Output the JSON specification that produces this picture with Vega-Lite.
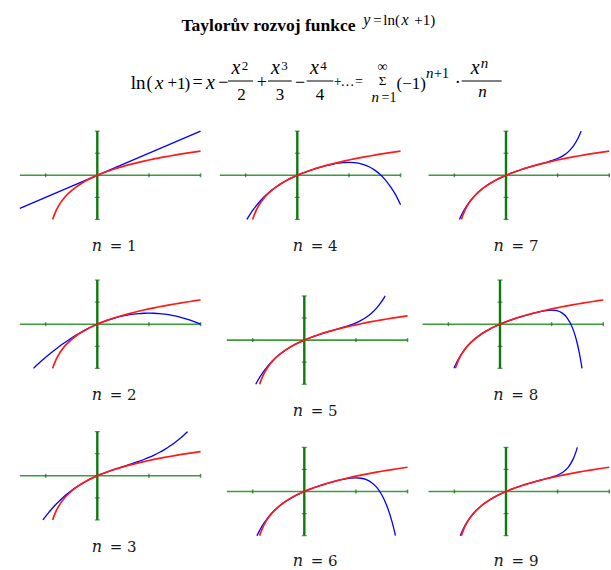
{
  "$schema": "https://vega.github.io/schema/vega-lite/v6.json",
  "background": "white",
  "padding": 0,
  "spacing": 0,
  "datasets": {
    "xt": [{"v": -1}, {"v": 1}, {"v": 2}],
    "yt": [{"v": -2}, {"v": -1}, {"v": 1}, {"v": 2}],
    "ln": [
      {"x": -0.8647, "y": -2}, {"x": -0.86, "y": -1.96611}, {"x": -0.85, "y": -1.89712}, {"x": -0.84, "y": -1.83258},
      {"x": -0.83, "y": -1.77196}, {"x": -0.82, "y": -1.7148}, {"x": -0.8, "y": -1.60944}, {"x": -0.78, "y": -1.51413},
      {"x": -0.75, "y": -1.38629}, {"x": -0.7, "y": -1.20397}, {"x": -0.65, "y": -1.04982}, {"x": -0.6, "y": -0.91629},
      {"x": -0.5, "y": -0.69315}, {"x": -0.4, "y": -0.51083}, {"x": -0.3, "y": -0.35667}, {"x": -0.2, "y": -0.22314},
      {"x": -0.1, "y": -0.10536}, {"x": 0, "y": 0}, {"x": 0.1, "y": 0.09531}, {"x": 0.2, "y": 0.18232},
      {"x": 0.3, "y": 0.26236}, {"x": 0.4, "y": 0.33647}, {"x": 0.5, "y": 0.40547}, {"x": 0.6, "y": 0.47},
      {"x": 0.7, "y": 0.53063}, {"x": 0.8, "y": 0.58779}, {"x": 0.9, "y": 0.64185}, {"x": 1.0, "y": 0.69315},
      {"x": 1.1, "y": 0.74194}, {"x": 1.2, "y": 0.78846}, {"x": 1.3, "y": 0.83291}, {"x": 1.4, "y": 0.87547},
      {"x": 1.5, "y": 0.91629}, {"x": 1.6, "y": 0.95551}, {"x": 1.7, "y": 0.99325}, {"x": 1.8, "y": 1.02962},
      {"x": 1.9, "y": 1.06471}, {"x": 2.0, "y": 1.09861}
    ],
    "taylor": [
      {"n": 1, "x": -1.5, "y": -1.5}, {"n": 1, "x": 2, "y": 2},

      {"n": 2, "x": -1.236, "y": -2}, {"n": 2, "x": -1.2, "y": -1.92}, {"n": 2, "x": -1.1, "y": -1.705}, {"n": 2, "x": -1.0, "y": -1.5},
      {"n": 2, "x": -0.9, "y": -1.305}, {"n": 2, "x": -0.8, "y": -1.12}, {"n": 2, "x": -0.7, "y": -0.945}, {"n": 2, "x": -0.6, "y": -0.78},
      {"n": 2, "x": -0.5, "y": -0.625}, {"n": 2, "x": -0.4, "y": -0.48}, {"n": 2, "x": -0.3, "y": -0.345}, {"n": 2, "x": -0.2, "y": -0.22},
      {"n": 2, "x": -0.1, "y": -0.105}, {"n": 2, "x": 0, "y": 0}, {"n": 2, "x": 0.1, "y": 0.095}, {"n": 2, "x": 0.2, "y": 0.18},
      {"n": 2, "x": 0.3, "y": 0.255}, {"n": 2, "x": 0.4, "y": 0.32}, {"n": 2, "x": 0.5, "y": 0.375}, {"n": 2, "x": 0.6, "y": 0.42},
      {"n": 2, "x": 0.7, "y": 0.455}, {"n": 2, "x": 0.8, "y": 0.48}, {"n": 2, "x": 0.9, "y": 0.495}, {"n": 2, "x": 1.0, "y": 0.5},
      {"n": 2, "x": 1.1, "y": 0.495}, {"n": 2, "x": 1.2, "y": 0.48}, {"n": 2, "x": 1.3, "y": 0.455}, {"n": 2, "x": 1.4, "y": 0.42},
      {"n": 2, "x": 1.5, "y": 0.375}, {"n": 2, "x": 1.6, "y": 0.32}, {"n": 2, "x": 1.7, "y": 0.255}, {"n": 2, "x": 1.8, "y": 0.18},
      {"n": 2, "x": 1.9, "y": 0.095}, {"n": 2, "x": 2.0, "y": 0},

      {"n": 3, "x": -1.054, "y": -2}, {"n": 3, "x": -1.0, "y": -1.8333}, {"n": 3, "x": -0.95, "y": -1.687}, {"n": 3, "x": -0.9, "y": -1.548},
      {"n": 3, "x": -0.8, "y": -1.2907}, {"n": 3, "x": -0.7, "y": -1.0593}, {"n": 3, "x": -0.6, "y": -0.852}, {"n": 3, "x": -0.5, "y": -0.6667},
      {"n": 3, "x": -0.4, "y": -0.5013}, {"n": 3, "x": -0.3, "y": -0.354}, {"n": 3, "x": -0.2, "y": -0.2227}, {"n": 3, "x": -0.1, "y": -0.1053},
      {"n": 3, "x": 0, "y": 0}, {"n": 3, "x": 0.1, "y": 0.0953}, {"n": 3, "x": 0.2, "y": 0.1827}, {"n": 3, "x": 0.3, "y": 0.264},
      {"n": 3, "x": 0.4, "y": 0.3413}, {"n": 3, "x": 0.5, "y": 0.4167}, {"n": 3, "x": 0.6, "y": 0.492}, {"n": 3, "x": 0.7, "y": 0.5693},
      {"n": 3, "x": 0.8, "y": 0.6507}, {"n": 3, "x": 0.9, "y": 0.738}, {"n": 3, "x": 1.0, "y": 0.8333}, {"n": 3, "x": 1.1, "y": 0.9387},
      {"n": 3, "x": 1.2, "y": 1.056}, {"n": 3, "x": 1.3, "y": 1.1873}, {"n": 3, "x": 1.4, "y": 1.3347}, {"n": 3, "x": 1.5, "y": 1.5},
      {"n": 3, "x": 1.6, "y": 1.6853}, {"n": 3, "x": 1.7, "y": 1.8927}, {"n": 3, "x": 1.7477, "y": 2},

      {"n": 4, "x": -0.9788, "y": -2}, {"n": 4, "x": -0.95, "y": -1.8907}, {"n": 4, "x": -0.9, "y": -1.712}, {"n": 4, "x": -0.85, "y": -1.5465},
      {"n": 4, "x": -0.8, "y": -1.3931}, {"n": 4, "x": -0.7, "y": -1.1194}, {"n": 4, "x": -0.6, "y": -0.8844}, {"n": 4, "x": -0.5, "y": -0.6823},
      {"n": 4, "x": -0.4, "y": -0.5077}, {"n": 4, "x": -0.3, "y": -0.356}, {"n": 4, "x": -0.2, "y": -0.2231}, {"n": 4, "x": -0.1, "y": -0.1054},
      {"n": 4, "x": 0, "y": 0}, {"n": 4, "x": 0.1, "y": 0.0953}, {"n": 4, "x": 0.2, "y": 0.1823}, {"n": 4, "x": 0.3, "y": 0.262},
      {"n": 4, "x": 0.4, "y": 0.3349}, {"n": 4, "x": 0.5, "y": 0.401}, {"n": 4, "x": 0.6, "y": 0.4596}, {"n": 4, "x": 0.7, "y": 0.5093},
      {"n": 4, "x": 0.8, "y": 0.5483}, {"n": 4, "x": 0.9, "y": 0.574}, {"n": 4, "x": 1.0, "y": 0.5833}, {"n": 4, "x": 1.1, "y": 0.5726},
      {"n": 4, "x": 1.2, "y": 0.5376}, {"n": 4, "x": 1.3, "y": 0.4733}, {"n": 4, "x": 1.4, "y": 0.3743}, {"n": 4, "x": 1.5, "y": 0.2344},
      {"n": 4, "x": 1.6, "y": 0.0469}, {"n": 4, "x": 1.7, "y": -0.1954}, {"n": 4, "x": 1.8, "y": -0.5004}, {"n": 4, "x": 1.9, "y": -0.8617},
      {"n": 4, "x": 2.0, "y": -1.3333},

      {"n": 5, "x": -0.9399, "y": -2}, {"n": 5, "x": -0.9, "y": -1.8301}, {"n": 5, "x": -0.85, "y": -1.6352}, {"n": 5, "x": -0.8, "y": -1.4586},
      {"n": 5, "x": -0.7, "y": -1.153}, {"n": 5, "x": -0.6, "y": -0.9}, {"n": 5, "x": -0.5, "y": -0.6885}, {"n": 5, "x": -0.4, "y": -0.5098},
      {"n": 5, "x": -0.3, "y": -0.3565}, {"n": 5, "x": -0.2, "y": -0.2231}, {"n": 5, "x": -0.1, "y": -0.1054}, {"n": 5, "x": 0, "y": 0},
      {"n": 5, "x": 0.1, "y": 0.0953}, {"n": 5, "x": 0.2, "y": 0.1823}, {"n": 5, "x": 0.3, "y": 0.2625}, {"n": 5, "x": 0.4, "y": 0.337},
      {"n": 5, "x": 0.5, "y": 0.4073}, {"n": 5, "x": 0.6, "y": 0.4752}, {"n": 5, "x": 0.7, "y": 0.5429}, {"n": 5, "x": 0.8, "y": 0.6138},
      {"n": 5, "x": 0.9, "y": 0.6921}, {"n": 5, "x": 1.0, "y": 0.7833}, {"n": 5, "x": 1.1, "y": 0.8947}, {"n": 5, "x": 1.2, "y": 1.0353},
      {"n": 5, "x": 1.3, "y": 1.2159}, {"n": 5, "x": 1.4, "y": 1.4499}, {"n": 5, "x": 1.5, "y": 1.7531}, {"n": 5, "x": 1.55, "y": 1.9364},
      {"n": 5, "x": 1.566, "y": 2},

      {"n": 6, "x": -0.917, "y": -2}, {"n": 6, "x": -0.9, "y": -1.9187}, {"n": 6, "x": -0.88, "y": -1.8272}, {"n": 6, "x": -0.85, "y": -1.6981},
      {"n": 6, "x": -0.8, "y": -1.5023}, {"n": 6, "x": -0.7, "y": -1.1726}, {"n": 6, "x": -0.6, "y": -0.9077}, {"n": 6, "x": -0.5, "y": -0.6911},
      {"n": 6, "x": -0.4, "y": -0.5105}, {"n": 6, "x": -0.3, "y": -0.3566}, {"n": 6, "x": -0.2, "y": -0.2231}, {"n": 6, "x": -0.1, "y": -0.1054},
      {"n": 6, "x": 0, "y": 0}, {"n": 6, "x": 0.1, "y": 0.0953}, {"n": 6, "x": 0.2, "y": 0.1823}, {"n": 6, "x": 0.3, "y": 0.2623},
      {"n": 6, "x": 0.4, "y": 0.3363}, {"n": 6, "x": 0.5, "y": 0.4047}, {"n": 6, "x": 0.6, "y": 0.4674}, {"n": 6, "x": 0.7, "y": 0.5233},
      {"n": 6, "x": 0.8, "y": 0.5701}, {"n": 6, "x": 0.9, "y": 0.6035}, {"n": 6, "x": 1.0, "y": 0.6167}, {"n": 6, "x": 1.1, "y": 0.5995},
      {"n": 6, "x": 1.2, "y": 0.5376}, {"n": 6, "x": 1.3, "y": 0.4114}, {"n": 6, "x": 1.4, "y": 0.195}, {"n": 6, "x": 1.5, "y": -0.1453},
      {"n": 6, "x": 1.6, "y": -0.6521}, {"n": 6, "x": 1.7, "y": -1.3786}, {"n": 6, "x": 1.75, "y": -1.8441}, {"n": 6, "x": 1.765, "y": -2},

      {"n": 7, "x": -0.9025, "y": -2}, {"n": 7, "x": -0.9, "y": -1.987}, {"n": 7, "x": -0.88, "y": -1.8856}, {"n": 7, "x": -0.85, "y": -1.7439},
      {"n": 7, "x": -0.8, "y": -1.5323}, {"n": 7, "x": -0.7, "y": -1.1843}, {"n": 7, "x": -0.6, "y": -0.9117}, {"n": 7, "x": -0.5, "y": -0.6923},
      {"n": 7, "x": -0.4, "y": -0.5107}, {"n": 7, "x": -0.3, "y": -0.3567}, {"n": 7, "x": -0.2, "y": -0.2231}, {"n": 7, "x": -0.1, "y": -0.1054},
      {"n": 7, "x": 0, "y": 0}, {"n": 7, "x": 0.1, "y": 0.0953}, {"n": 7, "x": 0.2, "y": 0.1823}, {"n": 7, "x": 0.3, "y": 0.2624},
      {"n": 7, "x": 0.4, "y": 0.3365}, {"n": 7, "x": 0.5, "y": 0.4058}, {"n": 7, "x": 0.6, "y": 0.4714}, {"n": 7, "x": 0.7, "y": 0.5351},
      {"n": 7, "x": 0.8, "y": 0.6001}, {"n": 7, "x": 0.9, "y": 0.6718}, {"n": 7, "x": 1.0, "y": 0.7595}, {"n": 7, "x": 1.1, "y": 0.8779},
      {"n": 7, "x": 1.2, "y": 1.0495}, {"n": 7, "x": 1.3, "y": 1.3078}, {"n": 7, "x": 1.4, "y": 1.7009}, {"n": 7, "x": 1.45, "y": 1.968},
      {"n": 7, "x": 1.4553, "y": 2},

      {"n": 8, "x": -0.8927, "y": -2}, {"n": 8, "x": -0.88, "y": -1.9306}, {"n": 8, "x": -0.85, "y": -1.7779}, {"n": 8, "x": -0.8, "y": -1.5532},
      {"n": 8, "x": -0.7, "y": -1.1916}, {"n": 8, "x": -0.6, "y": -0.9138}, {"n": 8, "x": -0.5, "y": -0.6928}, {"n": 8, "x": -0.4, "y": -0.5108},
      {"n": 8, "x": -0.3, "y": -0.3567}, {"n": 8, "x": -0.2, "y": -0.2231}, {"n": 8, "x": -0.1, "y": -0.1054}, {"n": 8, "x": 0, "y": 0},
      {"n": 8, "x": 0.1, "y": 0.0953}, {"n": 8, "x": 0.2, "y": 0.1823}, {"n": 8, "x": 0.3, "y": 0.2624}, {"n": 8, "x": 0.4, "y": 0.3365},
      {"n": 8, "x": 0.5, "y": 0.4053}, {"n": 8, "x": 0.6, "y": 0.4693}, {"n": 8, "x": 0.7, "y": 0.5279}, {"n": 8, "x": 0.8, "y": 0.5791},
      {"n": 8, "x": 0.9, "y": 0.618}, {"n": 8, "x": 1.0, "y": 0.6345}, {"n": 8, "x": 1.1, "y": 0.6099}, {"n": 8, "x": 1.2, "y": 0.512},
      {"n": 8, "x": 1.3, "y": 0.2882}, {"n": 8, "x": 1.4, "y": -0.1438}, {"n": 8, "x": 1.45, "y": -0.4746}, {"n": 8, "x": 1.5, "y": -0.9081},
      {"n": 8, "x": 1.55, "y": -1.4687}, {"n": 8, "x": 1.58, "y": -1.8782}, {"n": 8, "x": 1.5881, "y": -2},

      {"n": 9, "x": -0.8859, "y": -2}, {"n": 9, "x": -0.88, "y": -1.9657}, {"n": 9, "x": -0.85, "y": -1.8037}, {"n": 9, "x": -0.8, "y": -1.5681},
      {"n": 9, "x": -0.7, "y": -1.196}, {"n": 9, "x": -0.6, "y": -0.9149}, {"n": 9, "x": -0.5, "y": -0.693}, {"n": 9, "x": -0.4, "y": -0.5108},
      {"n": 9, "x": -0.3, "y": -0.3567}, {"n": 9, "x": -0.2, "y": -0.2231}, {"n": 9, "x": -0.1, "y": -0.1054}, {"n": 9, "x": 0, "y": 0},
      {"n": 9, "x": 0.1, "y": 0.0953}, {"n": 9, "x": 0.2, "y": 0.1823}, {"n": 9, "x": 0.3, "y": 0.2624}, {"n": 9, "x": 0.4, "y": 0.3365},
      {"n": 9, "x": 0.5, "y": 0.4055}, {"n": 9, "x": 0.6, "y": 0.4704}, {"n": 9, "x": 0.7, "y": 0.5324}, {"n": 9, "x": 0.8, "y": 0.594},
      {"n": 9, "x": 0.9, "y": 0.6611}, {"n": 9, "x": 1.0, "y": 0.7456}, {"n": 9, "x": 1.1, "y": 0.8719}, {"n": 9, "x": 1.2, "y": 1.0853},
      {"n": 9, "x": 1.3, "y": 1.4664}, {"n": 9, "x": 1.35, "y": 1.7597}, {"n": 9, "x": 1.3823, "y": 2}
    ]
  },
  "vconcat": [
    {
      "width": 611,
      "height": 112,
      "data": {"values": [{}]},
      "layer": [
        {"mark": {"type": "text", "text": "Taylorův rozvoj funkce", "fontWeight": "bold", "fontSize": 17.5},
         "encoding": {"x": {"datum": 181.5, "type": "quantitative", "scale": {"domain": [0, 611], "nice": false, "zero": false}},
                      "y": {"datum": 30.5, "type": "quantitative", "scale": {"domain": [0, 112], "reverse": true, "nice": false, "zero": false}}}},
        {"mark": {"type": "text", "text": "y", "fontStyle": "italic", "fontSize": 16}, "encoding": {"x": {"datum": 363.3}, "y": {"datum": 25}}},
        {"mark": {"type": "text", "text": "=", "fontSize": 15}, "encoding": {"x": {"datum": 373.3}, "y": {"datum": 25}}},
        {"mark": {"type": "text", "text": "ln(", "fontSize": 15}, "encoding": {"x": {"datum": 383.3}, "y": {"datum": 25}}},
        {"mark": {"type": "text", "text": "x", "fontStyle": "italic", "fontSize": 16}, "encoding": {"x": {"datum": 401.5}, "y": {"datum": 25}}},
        {"mark": {"type": "text", "text": "+1)", "fontSize": 15}, "encoding": {"x": {"datum": 414.3}, "y": {"datum": 25}}},

        {"mark": {"type": "text", "text": "ln", "fontSize": 19}, "encoding": {"x": {"datum": 130.7}, "y": {"datum": 88.5}}},
        {"mark": {"type": "text", "text": "(", "fontSize": 18}, "encoding": {"x": {"datum": 146.5}, "y": {"datum": 88.5}}},
        {"mark": {"type": "text", "text": "x", "fontStyle": "italic", "fontSize": 19}, "encoding": {"x": {"datum": 155}, "y": {"datum": 88.5}}},
        {"mark": {"type": "text", "text": "+", "fontSize": 17}, "encoding": {"x": {"datum": 167.5}, "y": {"datum": 87.5}}},
        {"mark": {"type": "text", "text": "1", "fontSize": 17}, "encoding": {"x": {"datum": 177}, "y": {"datum": 88.5}}},
        {"mark": {"type": "text", "text": ")", "fontSize": 17}, "encoding": {"x": {"datum": 184.6}, "y": {"datum": 88.5}}},
        {"mark": {"type": "text", "text": "=", "fontSize": 18}, "encoding": {"x": {"datum": 192.5}, "y": {"datum": 87.5}}},
        {"mark": {"type": "text", "text": "x", "fontStyle": "italic", "fontSize": 20}, "encoding": {"x": {"datum": 206}, "y": {"datum": 88.5}}},
        {"mark": {"type": "text", "text": "−", "fontSize": 18}, "encoding": {"x": {"datum": 218.3}, "y": {"datum": 87.5}}},

        {"mark": {"type": "text", "text": "x", "fontStyle": "italic", "fontSize": 20}, "encoding": {"x": {"datum": 231.5}, "y": {"datum": 74}}},
        {"mark": {"type": "text", "text": "2", "fontSize": 13}, "encoding": {"x": {"datum": 241.8}, "y": {"datum": 70}}},
        {"mark": {"type": "rule", "color": "#000", "strokeWidth": 1}, "encoding": {"x": {"datum": 228}, "x2": {"datum": 253}, "y": {"datum": 81}}},
        {"mark": {"type": "text", "text": "2", "fontSize": 17, "align": "center"}, "encoding": {"x": {"datum": 241.5}, "y": {"datum": 100}}},
        {"mark": {"type": "text", "text": "+", "fontSize": 18}, "encoding": {"x": {"datum": 256.7}, "y": {"datum": 87.5}}},

        {"mark": {"type": "text", "text": "x", "fontStyle": "italic", "fontSize": 20}, "encoding": {"x": {"datum": 271}, "y": {"datum": 74}}},
        {"mark": {"type": "text", "text": "3", "fontSize": 13}, "encoding": {"x": {"datum": 281.3}, "y": {"datum": 70}}},
        {"mark": {"type": "rule", "color": "#000", "strokeWidth": 1}, "encoding": {"x": {"datum": 268}, "x2": {"datum": 291.7}, "y": {"datum": 81}}},
        {"mark": {"type": "text", "text": "3", "fontSize": 17, "align": "center"}, "encoding": {"x": {"datum": 280}, "y": {"datum": 100}}},
        {"mark": {"type": "text", "text": "−", "fontSize": 18}, "encoding": {"x": {"datum": 295}, "y": {"datum": 87.5}}},

        {"mark": {"type": "text", "text": "x", "fontStyle": "italic", "fontSize": 20}, "encoding": {"x": {"datum": 310}, "y": {"datum": 74}}},
        {"mark": {"type": "text", "text": "4", "fontSize": 13}, "encoding": {"x": {"datum": 320.3}, "y": {"datum": 70}}},
        {"mark": {"type": "rule", "color": "#000", "strokeWidth": 1}, "encoding": {"x": {"datum": 306.7}, "x2": {"datum": 333.3}, "y": {"datum": 81}}},
        {"mark": {"type": "text", "text": "4", "fontSize": 17, "align": "center"}, "encoding": {"x": {"datum": 320}, "y": {"datum": 100}}},

        {"mark": {"type": "text", "text": "+", "fontSize": 14}, "encoding": {"x": {"datum": 333.8}, "y": {"datum": 86}}},
        {"mark": {"type": "text", "text": "…", "fontSize": 14}, "encoding": {"x": {"datum": 340.5}, "y": {"datum": 86}}},
        {"mark": {"type": "text", "text": "=", "fontSize": 14}, "encoding": {"x": {"datum": 355}, "y": {"datum": 86}}},

        {"mark": {"type": "text", "text": "∞", "fontSize": 14, "align": "center"}, "encoding": {"x": {"datum": 382.5}, "y": {"datum": 70.5}}},
        {"mark": {"type": "text", "text": "Σ", "fontSize": 13, "align": "center"}, "encoding": {"x": {"datum": 382.5}, "y": {"datum": 84.5}}},
        {"mark": {"type": "text", "text": "n", "fontStyle": "italic", "fontSize": 15}, "encoding": {"x": {"datum": 371.5}, "y": {"datum": 101.5}}},
        {"mark": {"type": "text", "text": "=1", "fontSize": 14}, "encoding": {"x": {"datum": 381.5}, "y": {"datum": 101.5}}},

        {"mark": {"type": "text", "text": "(−1)", "fontSize": 17}, "encoding": {"x": {"datum": 396.5}, "y": {"datum": 88.5}}},
        {"mark": {"type": "text", "text": "n", "fontStyle": "italic", "fontSize": 15}, "encoding": {"x": {"datum": 426}, "y": {"datum": 78}}},
        {"mark": {"type": "text", "text": "+1", "fontSize": 14}, "encoding": {"x": {"datum": 434}, "y": {"datum": 78}}},
        {"mark": {"type": "text", "text": ".", "fontSize": 18}, "encoding": {"x": {"datum": 455.5}, "y": {"datum": 83}}},

        {"mark": {"type": "text", "text": "x", "fontStyle": "italic", "fontSize": 20}, "encoding": {"x": {"datum": 470.7}, "y": {"datum": 74}}},
        {"mark": {"type": "text", "text": "n", "fontStyle": "italic", "fontSize": 15}, "encoding": {"x": {"datum": 480.8}, "y": {"datum": 68.3}}},
        {"mark": {"type": "rule", "color": "#000", "strokeWidth": 1}, "encoding": {"x": {"datum": 461.7}, "x2": {"datum": 501.7}, "y": {"datum": 81}}},
        {"mark": {"type": "text", "text": "n", "fontStyle": "italic", "fontSize": 17, "align": "center"}, "encoding": {"x": {"datum": 482.5}, "y": {"datum": 96.5}}}
      ]
    },
    {
      "columns": 3,
      "spacing": 0,
      "bounds": "flush",
      "concat": [
        {"width": 205, "height": 150, "data": {"values": [{}]}, "layer": [
          {"mark": {"type": "rule", "color": "#3c9c3c", "strokeWidth": 1.6}, "encoding": {"x": {"datum": -1.5, "type": "quantitative", "scale": {"domain": [-1.8846, 2.086], "nice": false, "zero": false}}, "x2": {"datum": 2}, "y": {"datum": 0, "type": "quantitative", "scale": {"domain": [-3.9266, 2.8668], "nice": false, "zero": false}}}},
          {"mark": {"type": "rule", "color": "#0d7a0d", "strokeWidth": 2.4}, "encoding": {"x": {"datum": 0}, "y": {"datum": -2}, "y2": {"datum": 2}}},
          {"data": {"name": "xt"}, "mark": {"type": "tick", "orient": "vertical", "size": 4, "thickness": 1.5, "color": "#0d6d0d"}, "encoding": {"x": {"field": "v", "type": "quantitative"}, "y": {"datum": 0}}},
          {"data": {"name": "yt"}, "mark": {"type": "tick", "orient": "horizontal", "size": 5, "thickness": 1.2, "color": "#0d6d0d"}, "encoding": {"y": {"field": "v", "type": "quantitative"}, "x": {"datum": 0}}},
          {"data": {"name": "taylor"}, "transform": [{"filter": "datum.n == 1"}], "mark": {"type": "line", "color": "#0000ff", "strokeWidth": 1.3, "interpolate": "monotone"}, "encoding": {"x": {"field": "x", "type": "quantitative"}, "y": {"field": "y", "type": "quantitative"}}},
          {"data": {"name": "ln"}, "mark": {"type": "line", "color": "#ff1a1a", "strokeWidth": 1.7, "interpolate": "monotone"}, "encoding": {"x": {"field": "x", "type": "quantitative"}, "y": {"field": "y", "type": "quantitative"}}},
          {"mark": {"type": "text", "text": "n", "font": "DejaVu Serif", "fontStyle": "italic", "fontSize": 16, "align": "left", "color": "#1a1a1a"}, "encoding": {"x": {"datum": -0.108}, "y": {"datum": -3.45}}},
          {"mark": {"type": "text", "text": "= 1", "font": "DejaVu Serif", "fontSize": 15, "align": "left", "dx": 18, "color": "#1a1a1a"}, "encoding": {"x": {"datum": -0.108}, "y": {"datum": -3.45}}}
        ]},
        {"width": 205, "height": 150, "data": {"values": [{}]}, "layer": [
          {"mark": {"type": "rule", "color": "#3c9c3c", "strokeWidth": 1.6}, "encoding": {"x": {"datum": -1.5, "type": "quantitative", "scale": {"domain": [-1.7877, 2.1828], "nice": false, "zero": false}}, "x2": {"datum": 2}, "y": {"datum": 0, "type": "quantitative", "scale": {"domain": [-3.9266, 2.8668], "nice": false, "zero": false}}}},
          {"mark": {"type": "rule", "color": "#0d7a0d", "strokeWidth": 2.4}, "encoding": {"x": {"datum": 0}, "y": {"datum": -2}, "y2": {"datum": 2}}},
          {"data": {"name": "xt"}, "mark": {"type": "tick", "orient": "vertical", "size": 4, "thickness": 1.5, "color": "#0d6d0d"}, "encoding": {"x": {"field": "v", "type": "quantitative"}, "y": {"datum": 0}}},
          {"data": {"name": "yt"}, "mark": {"type": "tick", "orient": "horizontal", "size": 5, "thickness": 1.2, "color": "#0d6d0d"}, "encoding": {"y": {"field": "v", "type": "quantitative"}, "x": {"datum": 0}}},
          {"data": {"name": "taylor"}, "transform": [{"filter": "datum.n == 4"}], "mark": {"type": "line", "color": "#0000ff", "strokeWidth": 1.3, "interpolate": "monotone"}, "encoding": {"x": {"field": "x", "type": "quantitative"}, "y": {"field": "y", "type": "quantitative"}}},
          {"data": {"name": "ln"}, "mark": {"type": "line", "color": "#ff1a1a", "strokeWidth": 1.7, "interpolate": "monotone"}, "encoding": {"x": {"field": "x", "type": "quantitative"}, "y": {"field": "y", "type": "quantitative"}}},
          {"mark": {"type": "text", "text": "n", "font": "DejaVu Serif", "fontStyle": "italic", "fontSize": 16, "align": "left", "color": "#1a1a1a"}, "encoding": {"x": {"datum": -0.089}, "y": {"datum": -3.45}}},
          {"mark": {"type": "text", "text": "= 4", "font": "DejaVu Serif", "fontSize": 15, "align": "left", "dx": 18, "color": "#1a1a1a"}, "encoding": {"x": {"datum": -0.089}, "y": {"datum": -3.45}}}
        ]},
        {"width": 201, "height": 150, "data": {"values": [{}]}, "layer": [
          {"mark": {"type": "rule", "color": "#3c9c3c", "strokeWidth": 1.6}, "encoding": {"x": {"datum": -1.5, "type": "quantitative", "scale": {"domain": [-1.8594, 2.0337], "nice": false, "zero": false}}, "x2": {"datum": 2}, "y": {"datum": 0, "type": "quantitative", "scale": {"domain": [-3.9266, 2.8668], "nice": false, "zero": false}}}},
          {"mark": {"type": "rule", "color": "#0d7a0d", "strokeWidth": 2.4}, "encoding": {"x": {"datum": 0}, "y": {"datum": -2}, "y2": {"datum": 2}}},
          {"data": {"name": "xt"}, "mark": {"type": "tick", "orient": "vertical", "size": 4, "thickness": 1.5, "color": "#0d6d0d"}, "encoding": {"x": {"field": "v", "type": "quantitative"}, "y": {"datum": 0}}},
          {"data": {"name": "yt"}, "mark": {"type": "tick", "orient": "horizontal", "size": 5, "thickness": 1.2, "color": "#0d6d0d"}, "encoding": {"y": {"field": "v", "type": "quantitative"}, "x": {"datum": 0}}},
          {"data": {"name": "taylor"}, "transform": [{"filter": "datum.n == 7"}], "mark": {"type": "line", "color": "#0000ff", "strokeWidth": 1.3, "interpolate": "monotone"}, "encoding": {"x": {"field": "x", "type": "quantitative"}, "y": {"field": "y", "type": "quantitative"}}},
          {"data": {"name": "ln"}, "mark": {"type": "line", "color": "#ff1a1a", "strokeWidth": 1.7, "interpolate": "monotone"}, "encoding": {"x": {"field": "x", "type": "quantitative"}, "y": {"field": "y", "type": "quantitative"}}},
          {"mark": {"type": "text", "text": "n", "font": "DejaVu Serif", "fontStyle": "italic", "fontSize": 16, "align": "left", "color": "#1a1a1a"}, "encoding": {"x": {"datum": -0.24}, "y": {"datum": -3.45}}},
          {"mark": {"type": "text", "text": "= 7", "font": "DejaVu Serif", "fontSize": 15, "align": "left", "dx": 18, "color": "#1a1a1a"}, "encoding": {"x": {"datum": -0.24}, "y": {"datum": -3.45}}}
        ]},
        {"width": 205, "height": 152, "data": {"values": [{}]}, "layer": [
          {"mark": {"type": "rule", "color": "#3c9c3c", "strokeWidth": 1.6}, "encoding": {"x": {"datum": -1.5, "type": "quantitative", "scale": {"domain": [-1.8846, 2.086], "nice": false, "zero": false}}, "x2": {"datum": 2}, "y": {"datum": 0, "type": "quantitative", "scale": {"domain": [-4.067, 2.817], "nice": false, "zero": false}}}},
          {"mark": {"type": "rule", "color": "#0d7a0d", "strokeWidth": 2.4}, "encoding": {"x": {"datum": 0}, "y": {"datum": -2}, "y2": {"datum": 2}}},
          {"data": {"name": "xt"}, "mark": {"type": "tick", "orient": "vertical", "size": 4, "thickness": 1.5, "color": "#0d6d0d"}, "encoding": {"x": {"field": "v", "type": "quantitative"}, "y": {"datum": 0}}},
          {"data": {"name": "yt"}, "mark": {"type": "tick", "orient": "horizontal", "size": 5, "thickness": 1.2, "color": "#0d6d0d"}, "encoding": {"y": {"field": "v", "type": "quantitative"}, "x": {"datum": 0}}},
          {"data": {"name": "taylor"}, "transform": [{"filter": "datum.n == 2"}], "mark": {"type": "line", "color": "#0000ff", "strokeWidth": 1.3, "interpolate": "monotone"}, "encoding": {"x": {"field": "x", "type": "quantitative"}, "y": {"field": "y", "type": "quantitative"}}},
          {"data": {"name": "ln"}, "mark": {"type": "line", "color": "#ff1a1a", "strokeWidth": 1.7, "interpolate": "monotone"}, "encoding": {"x": {"field": "x", "type": "quantitative"}, "y": {"field": "y", "type": "quantitative"}}},
          {"mark": {"type": "text", "text": "n", "font": "DejaVu Serif", "fontStyle": "italic", "fontSize": 16, "align": "left", "color": "#1a1a1a"}, "encoding": {"x": {"datum": -0.108}, "y": {"datum": -3.45}}},
          {"mark": {"type": "text", "text": "= 2", "font": "DejaVu Serif", "fontSize": 15, "align": "left", "dx": 18, "color": "#1a1a1a"}, "encoding": {"x": {"datum": -0.108}, "y": {"datum": -3.45}}}
        ]},
        {"width": 205, "height": 152, "data": {"values": [{}]}, "layer": [
          {"mark": {"type": "rule", "color": "#3c9c3c", "strokeWidth": 1.6}, "encoding": {"x": {"datum": -1.5, "type": "quantitative", "scale": {"domain": [-1.9233, 2.0473], "nice": false, "zero": false}}, "x2": {"datum": 2}, "y": {"datum": 0, "type": "quantitative", "scale": {"domain": [-3.3469, 3.5371], "nice": false, "zero": false}}}},
          {"mark": {"type": "rule", "color": "#0d7a0d", "strokeWidth": 2.4}, "encoding": {"x": {"datum": 0}, "y": {"datum": -2}, "y2": {"datum": 2}}},
          {"data": {"name": "xt"}, "mark": {"type": "tick", "orient": "vertical", "size": 4, "thickness": 1.5, "color": "#0d6d0d"}, "encoding": {"x": {"field": "v", "type": "quantitative"}, "y": {"datum": 0}}},
          {"data": {"name": "yt"}, "mark": {"type": "tick", "orient": "horizontal", "size": 5, "thickness": 1.2, "color": "#0d6d0d"}, "encoding": {"y": {"field": "v", "type": "quantitative"}, "x": {"datum": 0}}},
          {"data": {"name": "taylor"}, "transform": [{"filter": "datum.n == 5"}], "mark": {"type": "line", "color": "#0000ff", "strokeWidth": 1.3, "interpolate": "monotone"}, "encoding": {"x": {"field": "x", "type": "quantitative"}, "y": {"field": "y", "type": "quantitative"}}},
          {"data": {"name": "ln"}, "mark": {"type": "line", "color": "#ff1a1a", "strokeWidth": 1.7, "interpolate": "monotone"}, "encoding": {"x": {"field": "x", "type": "quantitative"}, "y": {"field": "y", "type": "quantitative"}}},
          {"mark": {"type": "text", "text": "n", "font": "DejaVu Serif", "fontStyle": "italic", "fontSize": 16, "align": "left", "color": "#1a1a1a"}, "encoding": {"x": {"datum": -0.225}, "y": {"datum": -3.45}}},
          {"mark": {"type": "text", "text": "= 5", "font": "DejaVu Serif", "fontSize": 15, "align": "left", "dx": 18, "color": "#1a1a1a"}, "encoding": {"x": {"datum": -0.225}, "y": {"datum": -3.45}}}
        ]},
        {"width": 201, "height": 152, "data": {"values": [{}]}, "layer": [
          {"mark": {"type": "rule", "color": "#3c9c3c", "strokeWidth": 1.6}, "encoding": {"x": {"datum": -1.5, "type": "quantitative", "scale": {"domain": [-1.7432, 2.1499], "nice": false, "zero": false}}, "x2": {"datum": 2}, "y": {"datum": 0, "type": "quantitative", "scale": {"domain": [-4.067, 2.817], "nice": false, "zero": false}}}},
          {"mark": {"type": "rule", "color": "#0d7a0d", "strokeWidth": 2.4}, "encoding": {"x": {"datum": 0}, "y": {"datum": -2}, "y2": {"datum": 2}}},
          {"data": {"name": "xt"}, "mark": {"type": "tick", "orient": "vertical", "size": 4, "thickness": 1.5, "color": "#0d6d0d"}, "encoding": {"x": {"field": "v", "type": "quantitative"}, "y": {"datum": 0}}},
          {"data": {"name": "yt"}, "mark": {"type": "tick", "orient": "horizontal", "size": 5, "thickness": 1.2, "color": "#0d6d0d"}, "encoding": {"y": {"field": "v", "type": "quantitative"}, "x": {"datum": 0}}},
          {"data": {"name": "taylor"}, "transform": [{"filter": "datum.n == 8"}], "mark": {"type": "line", "color": "#0000ff", "strokeWidth": 1.3, "interpolate": "monotone"}, "encoding": {"x": {"field": "x", "type": "quantitative"}, "y": {"field": "y", "type": "quantitative"}}},
          {"data": {"name": "ln"}, "mark": {"type": "line", "color": "#ff1a1a", "strokeWidth": 1.7, "interpolate": "monotone"}, "encoding": {"x": {"field": "x", "type": "quantitative"}, "y": {"field": "y", "type": "quantitative"}}},
          {"mark": {"type": "text", "text": "n", "font": "DejaVu Serif", "fontStyle": "italic", "fontSize": 16, "align": "left", "color": "#1a1a1a"}, "encoding": {"x": {"datum": -0.13}, "y": {"datum": -3.45}}},
          {"mark": {"type": "text", "text": "= 8", "font": "DejaVu Serif", "fontSize": 15, "align": "left", "dx": 18, "color": "#1a1a1a"}, "encoding": {"x": {"datum": -0.13}, "y": {"datum": -3.45}}}
        ]},
        {"width": 205, "height": 156, "data": {"values": [{}]}, "layer": [
          {"mark": {"type": "rule", "color": "#3c9c3c", "strokeWidth": 1.6}, "encoding": {"x": {"datum": -1.5, "type": "quantitative", "scale": {"domain": [-1.8846, 2.086], "nice": false, "zero": false}}, "x2": {"datum": 2}, "y": {"datum": 0, "type": "quantitative", "scale": {"domain": [-4.2663, 2.7989], "nice": false, "zero": false}}}},
          {"mark": {"type": "rule", "color": "#0d7a0d", "strokeWidth": 2.4}, "encoding": {"x": {"datum": 0}, "y": {"datum": -2}, "y2": {"datum": 2}}},
          {"data": {"name": "xt"}, "mark": {"type": "tick", "orient": "vertical", "size": 4, "thickness": 1.5, "color": "#0d6d0d"}, "encoding": {"x": {"field": "v", "type": "quantitative"}, "y": {"datum": 0}}},
          {"data": {"name": "yt"}, "mark": {"type": "tick", "orient": "horizontal", "size": 5, "thickness": 1.2, "color": "#0d6d0d"}, "encoding": {"y": {"field": "v", "type": "quantitative"}, "x": {"datum": 0}}},
          {"data": {"name": "taylor"}, "transform": [{"filter": "datum.n == 3"}], "mark": {"type": "line", "color": "#0000ff", "strokeWidth": 1.3, "interpolate": "monotone"}, "encoding": {"x": {"field": "x", "type": "quantitative"}, "y": {"field": "y", "type": "quantitative"}}},
          {"data": {"name": "ln"}, "mark": {"type": "line", "color": "#ff1a1a", "strokeWidth": 1.7, "interpolate": "monotone"}, "encoding": {"x": {"field": "x", "type": "quantitative"}, "y": {"field": "y", "type": "quantitative"}}},
          {"mark": {"type": "text", "text": "n", "font": "DejaVu Serif", "fontStyle": "italic", "fontSize": 16, "align": "left", "color": "#1a1a1a"}, "encoding": {"x": {"datum": -0.108}, "y": {"datum": -3.45}}},
          {"mark": {"type": "text", "text": "= 3", "font": "DejaVu Serif", "fontSize": 15, "align": "left", "dx": 18, "color": "#1a1a1a"}, "encoding": {"x": {"datum": -0.108}, "y": {"datum": -3.45}}}
        ]},
        {"width": 205, "height": 156, "data": {"values": [{}]}, "layer": [
          {"mark": {"type": "rule", "color": "#3c9c3c", "strokeWidth": 1.6}, "encoding": {"x": {"datum": -1.5, "type": "quantitative", "scale": {"domain": [-1.9233, 2.0473], "nice": false, "zero": false}}, "x2": {"datum": 2}, "y": {"datum": 0, "type": "quantitative", "scale": {"domain": [-3.5553, 3.51], "nice": false, "zero": false}}}},
          {"mark": {"type": "rule", "color": "#0d7a0d", "strokeWidth": 2.4}, "encoding": {"x": {"datum": 0}, "y": {"datum": -2}, "y2": {"datum": 2}}},
          {"data": {"name": "xt"}, "mark": {"type": "tick", "orient": "vertical", "size": 4, "thickness": 1.5, "color": "#0d6d0d"}, "encoding": {"x": {"field": "v", "type": "quantitative"}, "y": {"datum": 0}}},
          {"data": {"name": "yt"}, "mark": {"type": "tick", "orient": "horizontal", "size": 5, "thickness": 1.2, "color": "#0d6d0d"}, "encoding": {"y": {"field": "v", "type": "quantitative"}, "x": {"datum": 0}}},
          {"data": {"name": "taylor"}, "transform": [{"filter": "datum.n == 6"}], "mark": {"type": "line", "color": "#0000ff", "strokeWidth": 1.3, "interpolate": "monotone"}, "encoding": {"x": {"field": "x", "type": "quantitative"}, "y": {"field": "y", "type": "quantitative"}}},
          {"data": {"name": "ln"}, "mark": {"type": "line", "color": "#ff1a1a", "strokeWidth": 1.7, "interpolate": "monotone"}, "encoding": {"x": {"field": "x", "type": "quantitative"}, "y": {"field": "y", "type": "quantitative"}}},
          {"mark": {"type": "text", "text": "n", "font": "DejaVu Serif", "fontStyle": "italic", "fontSize": 16, "align": "left", "color": "#1a1a1a"}, "encoding": {"x": {"datum": -0.225}, "y": {"datum": -3.36}}},
          {"mark": {"type": "text", "text": "= 6", "font": "DejaVu Serif", "fontSize": 15, "align": "left", "dx": 18, "color": "#1a1a1a"}, "encoding": {"x": {"datum": -0.225}, "y": {"datum": -3.36}}}
        ]},
        {"width": 201, "height": 156, "data": {"values": [{}]}, "layer": [
          {"mark": {"type": "rule", "color": "#3c9c3c", "strokeWidth": 1.6}, "encoding": {"x": {"datum": -1.5, "type": "quantitative", "scale": {"domain": [-1.8594, 2.0337], "nice": false, "zero": false}}, "x2": {"datum": 2}, "y": {"datum": 0, "type": "quantitative", "scale": {"domain": [-3.5553, 3.51], "nice": false, "zero": false}}}},
          {"mark": {"type": "rule", "color": "#0d7a0d", "strokeWidth": 2.4}, "encoding": {"x": {"datum": 0}, "y": {"datum": -2}, "y2": {"datum": 2}}},
          {"data": {"name": "xt"}, "mark": {"type": "tick", "orient": "vertical", "size": 4, "thickness": 1.5, "color": "#0d6d0d"}, "encoding": {"x": {"field": "v", "type": "quantitative"}, "y": {"datum": 0}}},
          {"data": {"name": "yt"}, "mark": {"type": "tick", "orient": "horizontal", "size": 5, "thickness": 1.2, "color": "#0d6d0d"}, "encoding": {"y": {"field": "v", "type": "quantitative"}, "x": {"datum": 0}}},
          {"data": {"name": "taylor"}, "transform": [{"filter": "datum.n == 9"}], "mark": {"type": "line", "color": "#0000ff", "strokeWidth": 1.3, "interpolate": "monotone"}, "encoding": {"x": {"field": "x", "type": "quantitative"}, "y": {"field": "y", "type": "quantitative"}}},
          {"data": {"name": "ln"}, "mark": {"type": "line", "color": "#ff1a1a", "strokeWidth": 1.7, "interpolate": "monotone"}, "encoding": {"x": {"field": "x", "type": "quantitative"}, "y": {"field": "y", "type": "quantitative"}}},
          {"mark": {"type": "text", "text": "n", "font": "DejaVu Serif", "fontStyle": "italic", "fontSize": 16, "align": "left", "color": "#1a1a1a"}, "encoding": {"x": {"datum": -0.24}, "y": {"datum": -3.36}}},
          {"mark": {"type": "text", "text": "= 9", "font": "DejaVu Serif", "fontSize": 15, "align": "left", "dx": 18, "color": "#1a1a1a"}, "encoding": {"x": {"datum": -0.24}, "y": {"datum": -3.36}}}
        ]}
      ]
    }
  ],
  "config": {
    "view": {"stroke": null},
    "axis": {"disable": true},
    "concat": {"spacing": 0},
    "text": {"font": "Liberation Serif", "color": "#000", "align": "left", "baseline": "alphabetic"}
  }
}
